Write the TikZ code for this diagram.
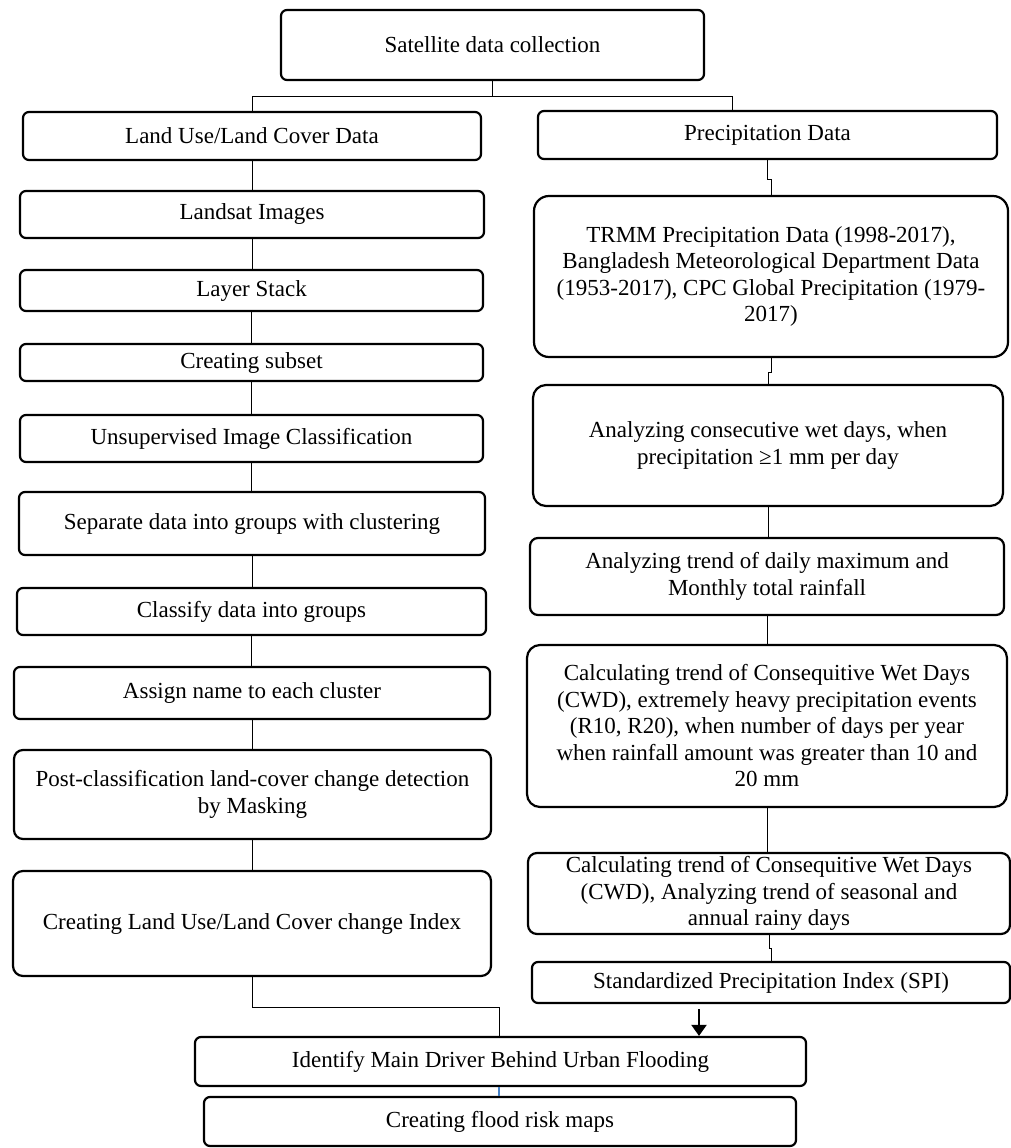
\documentclass[tikz,border=0pt]{standalone}
\usepackage{fontspec}
\setmainfont{Liberation Serif}
\usetikzlibrary{arrows.meta,calc}
\tikzset{
  box/.style={draw=black, line width=2.2pt, rounded corners=6pt, inner sep=0pt,
    align=center, font=\fontsize{23}{26.5}\selectfont, text=black},
  bigbox/.style={box, rounded corners=13pt},
  link/.style={draw=black, line width=1pt},
  bluelink/.style={draw={rgb,255:red,70;green,130;blue,200}, line width=1.5pt},
  leadarrow/.style={draw=black, line width=2pt, -{Triangle[width=15pt,length=11pt]}}
}
\begin{document}
\begin{tikzpicture}[x=1pt,y=-1pt]
\useasboundingbox[fill=white] (0,0) rectangle (1011,1148);

% top
\node[box, minimum width=423pt, minimum height=70pt] (sat) at (492.5,45) {Satellite data collection};

% left column
\node[box, minimum width=458pt, minimum height=48pt] (landuse) at (252,136) {Land Use/Land Cover Data};
\node[box, minimum width=464pt, minimum height=47pt] (landsat) at (252,214.5) {Landsat Images};
\node[box, minimum width=463pt, minimum height=41pt] (layer) at (251.5,290.5) {Layer Stack};
\node[box, minimum width=463pt, minimum height=37pt] (subset) at (251.5,362.5) {Creating subset};
\node[box, minimum width=463pt, minimum height=47pt] (unsup) at (251.5,438.5) {Unsupervised Image Classification};
\node[box, minimum width=466pt, minimum height=63pt] (separate) at (252,523.5) {Separate data into groups with clustering};
\node[box, minimum width=469pt, minimum height=47pt] (classify) at (251.5,611.5) {Classify data into groups};
\node[box, minimum width=476pt, minimum height=52pt] (assign) at (252,693) {Assign name to each cluster};
\node[box, rounded corners=9pt, minimum width=477pt, minimum height=89pt] (post) at (252.5,794.5) {Post-classification land-cover change detection\\by Masking};
\node[box, rounded corners=10pt, minimum width=478pt, minimum height=105pt] (lulc) at (252,923.5) {Creating Land Use/Land Cover change Index};

% right column
\node[box, minimum width=459pt, minimum height=48pt] (precip) at (767.5,135) {Precipitation Data};
\node[bigbox, rounded corners=15pt, minimum width=474pt, minimum height=161pt] (trmm) at (771,276.5) {TRMM Precipitation Data (1998-2017),\\Bangladesh Meteorological Department Data\\(1953-2017), CPC Global Precipitation (1979-\\2017)};
\node[bigbox, minimum width=470pt, minimum height=121pt] (consec) at (768,445.5) {Analyzing consecutive wet days, when\\precipitation ≥1 mm per day};
\node[box, rounded corners=8pt, minimum width=474pt, minimum height=77pt] (trend) at (767,576.5) {Analyzing trend of daily maximum and\\Monthly total rainfall};
\node[bigbox, minimum width=480pt, minimum height=162pt] (cwd) at (767,726) {Calculating trend of Consequitive Wet Days\\(CWD), extremely heavy precipitation events\\(R10, R20), when number of days per year\\when rainfall amount was greater than 10 and\\20 mm};
\node[box, rounded corners=9pt, minimum width=482pt, minimum height=81pt] (seasonal) at (769,893.5) {Calculating trend of Consequitive Wet Days\\(CWD), Analyzing trend of seasonal and\\annual rainy days};
\node[box, minimum width=478pt, minimum height=41pt] (spi) at (771,982.5) {Standardized Precipitation Index (SPI)};

% bottom
\node[box, minimum width=611pt, minimum height=49pt] (identify) at (500.5,1061.5) {Identify Main Driver Behind Urban Flooding};
\node[box, minimum width=592pt, minimum height=49pt] (flood) at (500,1121.5) {Creating flood risk maps};

% branch from top
\coordinate (brr) at (732,96);
\draw[link] (sat.south) -- (sat.south |- brr);
\draw[link] (landuse.north) |- (brr) -- (brr |- precip.north);

% left chain
\draw[link] (landuse.south) -- (landuse.south |- landsat.north);
\draw[link] (landsat.south) -- (landsat.south |- layer.north);
\draw[link] (layer.south) -- (layer.south |- subset.north);
\draw[link] (subset.south) -- (subset.south |- unsup.north);
\draw[link] (unsup.south) -- (unsup.south |- separate.north);
\draw[link] (separate.south) -- (separate.south |- classify.north);
\draw[link] (classify.south) -- (classify.south |- assign.north);
\draw[link] (assign.south) -- (assign.south |- post.north);
\draw[link] (post.south) -- (post.south |- lulc.north);

% right chain
\draw[link] (precip.south) -- ++(0,19) -| (trmm.north);
\draw[link] (trmm.south) -- ++(0,14) -| (consec.north);
\draw[link] (consec.south) -- (consec.south |- trend.north);
\draw[link] (trend.south) -- (trend.south |- cwd.north);
\draw[link] (cwd.south) -- (cwd.south |- seasonal.north);
\draw[link] (seasonal.south) -- ++(0,13) -| (spi.north);

% to bottom
\coordinate (jn) at (499,1007);
\draw[link] (lulc.south) |- (jn) -- (jn |- identify.north);
\coordinate (ax) at (699,1009);
\draw[leadarrow] (ax) -- (ax |- identify.north);
\draw[bluelink] (identify.south -| jn) -- (flood.north -| jn);
\end{tikzpicture}
\end{document}
